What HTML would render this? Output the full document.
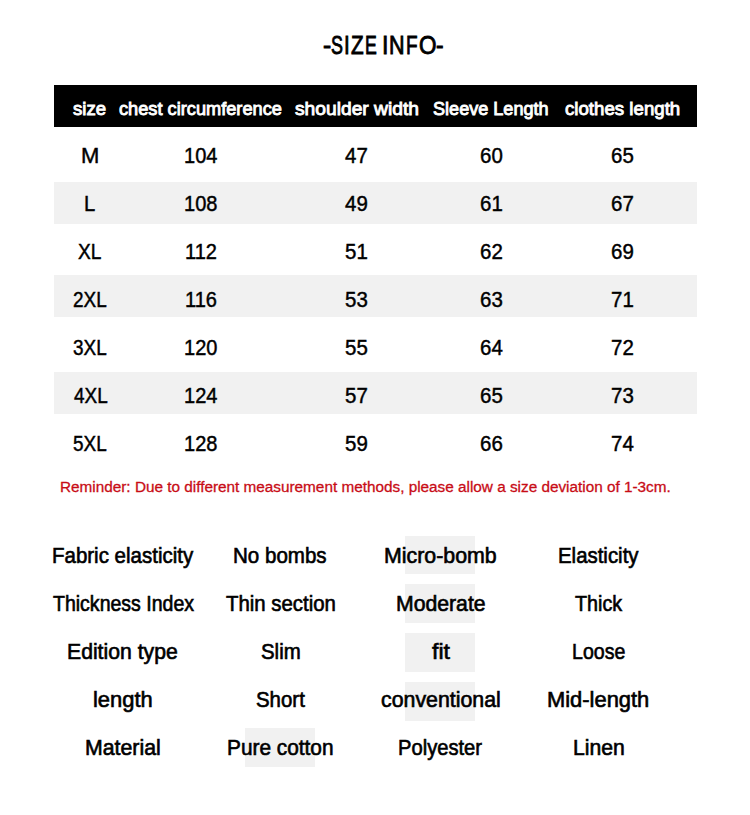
<!DOCTYPE html>
<html><head><meta charset="utf-8"><style>
html,body{margin:0;padding:0;background:#fff;width:750px;height:815px;overflow:hidden;position:relative}
.t{position:absolute;white-space:pre;font-family:'Liberation Sans', sans-serif;transform-origin:0 0}
.r{position:absolute;background:#f1f1f1}
.hd{position:absolute;left:54px;top:85px;width:643px;height:42px;background:#000}
</style></head><body>
<div class="r" style="left:54px;top:182px;width:643px;height:42px"></div><div class="r" style="left:54px;top:275px;width:643px;height:42px"></div><div class="r" style="left:54px;top:372px;width:643px;height:42px"></div><div class="r" style="left:405px;top:536px;width:70px;height:38px"></div><div class="r" style="left:405px;top:584px;width:70px;height:39px"></div><div class="r" style="left:405px;top:633px;width:70px;height:39px"></div><div class="r" style="left:405px;top:682px;width:70px;height:39px"></div><div class="r" style="left:245px;top:728px;width:70px;height:39px"></div><div class="hd"></div>
<div class="t" style="left:322.57px;top:31.80px;font-size:26.5px;line-height:26.5px;font-weight:normal;color:#000;transform:scaleX(0.9286);-webkit-text-stroke:0.9px #000">-</div><div class="t" style="left:330.62px;top:31.80px;font-size:26.5px;line-height:26.5px;font-weight:normal;color:#000;transform:scaleX(0.6750);-webkit-text-stroke:0.9px #000">S</div><div class="t" style="left:343.55px;top:31.80px;font-size:26.5px;line-height:26.5px;font-weight:normal;color:#000;transform:scaleX(0.7750);-webkit-text-stroke:0.9px #000">I</div><div class="t" style="left:350.80px;top:31.80px;font-size:26.5px;line-height:26.5px;font-weight:normal;color:#000;transform:scaleX(0.7812);-webkit-text-stroke:0.9px #000">Z</div><div class="t" style="left:364.57px;top:31.80px;font-size:26.5px;line-height:26.5px;font-weight:normal;color:#000;transform:scaleX(0.6667);-webkit-text-stroke:0.9px #000">E</div><div class="t" style="left:382.15px;top:31.80px;font-size:26.5px;line-height:26.5px;font-weight:normal;color:#000;transform:scaleX(0.8750);-webkit-text-stroke:0.9px #000">I</div><div class="t" style="left:389.18px;top:31.80px;font-size:26.5px;line-height:26.5px;font-weight:normal;color:#000;transform:scaleX(0.8125);-webkit-text-stroke:0.9px #000">N</div><div class="t" style="left:405.87px;top:31.80px;font-size:26.5px;line-height:26.5px;font-weight:normal;color:#000;transform:scaleX(0.7143);-webkit-text-stroke:0.9px #000">F</div><div class="t" style="left:418.55px;top:31.80px;font-size:26.5px;line-height:26.5px;font-weight:normal;color:#000;transform:scaleX(0.8474);-webkit-text-stroke:0.9px #000">O</div><div class="t" style="left:435.94px;top:31.80px;font-size:26.5px;line-height:26.5px;font-weight:normal;color:#000;transform:scaleX(0.8571);-webkit-text-stroke:0.9px #000">-</div><div class="t" style="left:73.40px;top:99.00px;font-size:19px;line-height:19px;font-weight:normal;color:#fff;transform:scaleX(0.9794);-webkit-text-stroke:0.9px #fff">size</div><div class="t" style="left:118.80px;top:99.00px;font-size:19px;line-height:19px;font-weight:normal;color:#fff;transform:scaleX(0.9582);-webkit-text-stroke:0.9px #fff">chest circumference</div><div class="t" style="left:294.50px;top:99.00px;font-size:19px;line-height:19px;font-weight:normal;color:#fff;transform:scaleX(1.0123);-webkit-text-stroke:0.9px #fff">shoulder width</div><div class="t" style="left:433.05px;top:99.00px;font-size:19px;line-height:19px;font-weight:normal;color:#fff;transform:scaleX(0.9517);-webkit-text-stroke:0.9px #fff">Sleeve Length</div><div class="t" style="left:564.70px;top:99.00px;font-size:19px;line-height:19px;font-weight:normal;color:#fff;transform:scaleX(0.9829);-webkit-text-stroke:0.9px #fff">clothes length</div><div class="t" style="left:81.00px;top:145.00px;font-size:22px;line-height:22px;font-weight:normal;color:#000;transform:scaleX(1.0000);-webkit-text-stroke:0.45px #000">M</div><div class="t" style="left:184.26px;top:145.00px;font-size:22px;line-height:22px;font-weight:normal;color:#000;transform:scaleX(0.9100);-webkit-text-stroke:0.45px #000">104</div><div class="t" style="left:345.14px;top:145.00px;font-size:22px;line-height:22px;font-weight:normal;color:#000;transform:scaleX(0.9300);-webkit-text-stroke:0.45px #000">47</div><div class="t" style="left:479.77px;top:145.00px;font-size:22px;line-height:22px;font-weight:normal;color:#000;transform:scaleX(0.9300);-webkit-text-stroke:0.45px #000">60</div><div class="t" style="left:610.67px;top:145.00px;font-size:22px;line-height:22px;font-weight:normal;color:#000;transform:scaleX(0.9300);-webkit-text-stroke:0.45px #000">65</div><div class="t" style="left:84.06px;top:193.00px;font-size:22px;line-height:22px;font-weight:normal;color:#000;transform:scaleX(0.9200);-webkit-text-stroke:0.45px #000">L</div><div class="t" style="left:184.26px;top:193.00px;font-size:22px;line-height:22px;font-weight:normal;color:#000;transform:scaleX(0.9100);-webkit-text-stroke:0.45px #000">108</div><div class="t" style="left:345.14px;top:193.00px;font-size:22px;line-height:22px;font-weight:normal;color:#000;transform:scaleX(0.9300);-webkit-text-stroke:0.45px #000">49</div><div class="t" style="left:479.77px;top:193.00px;font-size:22px;line-height:22px;font-weight:normal;color:#000;transform:scaleX(0.9300);-webkit-text-stroke:0.45px #000">61</div><div class="t" style="left:610.67px;top:193.00px;font-size:22px;line-height:22px;font-weight:normal;color:#000;transform:scaleX(0.9300);-webkit-text-stroke:0.45px #000">67</div><div class="t" style="left:78.32px;top:241.00px;font-size:22px;line-height:22px;font-weight:normal;color:#000;transform:scaleX(0.8700);-webkit-text-stroke:0.45px #000">XL</div><div class="t" style="left:185.17px;top:241.00px;font-size:22px;line-height:22px;font-weight:normal;color:#000;transform:scaleX(0.9100);-webkit-text-stroke:0.45px #000">112</div><div class="t" style="left:344.68px;top:241.00px;font-size:22px;line-height:22px;font-weight:normal;color:#000;transform:scaleX(0.9300);-webkit-text-stroke:0.45px #000">51</div><div class="t" style="left:479.77px;top:241.00px;font-size:22px;line-height:22px;font-weight:normal;color:#000;transform:scaleX(0.9300);-webkit-text-stroke:0.45px #000">62</div><div class="t" style="left:610.67px;top:241.00px;font-size:22px;line-height:22px;font-weight:normal;color:#000;transform:scaleX(0.9300);-webkit-text-stroke:0.45px #000">69</div><div class="t" style="left:73.30px;top:289.00px;font-size:22px;line-height:22px;font-weight:normal;color:#000;transform:scaleX(0.8600);-webkit-text-stroke:0.45px #000">2XL</div><div class="t" style="left:185.17px;top:289.00px;font-size:22px;line-height:22px;font-weight:normal;color:#000;transform:scaleX(0.9100);-webkit-text-stroke:0.45px #000">116</div><div class="t" style="left:344.68px;top:289.00px;font-size:22px;line-height:22px;font-weight:normal;color:#000;transform:scaleX(0.9300);-webkit-text-stroke:0.45px #000">53</div><div class="t" style="left:479.77px;top:289.00px;font-size:22px;line-height:22px;font-weight:normal;color:#000;transform:scaleX(0.9300);-webkit-text-stroke:0.45px #000">63</div><div class="t" style="left:610.67px;top:289.00px;font-size:22px;line-height:22px;font-weight:normal;color:#000;transform:scaleX(0.9300);-webkit-text-stroke:0.45px #000">71</div><div class="t" style="left:73.30px;top:337.00px;font-size:22px;line-height:22px;font-weight:normal;color:#000;transform:scaleX(0.8600);-webkit-text-stroke:0.45px #000">3XL</div><div class="t" style="left:184.26px;top:337.00px;font-size:22px;line-height:22px;font-weight:normal;color:#000;transform:scaleX(0.9100);-webkit-text-stroke:0.45px #000">120</div><div class="t" style="left:344.68px;top:337.00px;font-size:22px;line-height:22px;font-weight:normal;color:#000;transform:scaleX(0.9300);-webkit-text-stroke:0.45px #000">55</div><div class="t" style="left:479.77px;top:337.00px;font-size:22px;line-height:22px;font-weight:normal;color:#000;transform:scaleX(0.9300);-webkit-text-stroke:0.45px #000">64</div><div class="t" style="left:610.67px;top:337.00px;font-size:22px;line-height:22px;font-weight:normal;color:#000;transform:scaleX(0.9300);-webkit-text-stroke:0.45px #000">72</div><div class="t" style="left:73.73px;top:385.00px;font-size:22px;line-height:22px;font-weight:normal;color:#000;transform:scaleX(0.8600);-webkit-text-stroke:0.45px #000">4XL</div><div class="t" style="left:184.26px;top:385.00px;font-size:22px;line-height:22px;font-weight:normal;color:#000;transform:scaleX(0.9100);-webkit-text-stroke:0.45px #000">124</div><div class="t" style="left:344.68px;top:385.00px;font-size:22px;line-height:22px;font-weight:normal;color:#000;transform:scaleX(0.9300);-webkit-text-stroke:0.45px #000">57</div><div class="t" style="left:479.77px;top:385.00px;font-size:22px;line-height:22px;font-weight:normal;color:#000;transform:scaleX(0.9300);-webkit-text-stroke:0.45px #000">65</div><div class="t" style="left:610.67px;top:385.00px;font-size:22px;line-height:22px;font-weight:normal;color:#000;transform:scaleX(0.9300);-webkit-text-stroke:0.45px #000">73</div><div class="t" style="left:73.30px;top:433.00px;font-size:22px;line-height:22px;font-weight:normal;color:#000;transform:scaleX(0.8600);-webkit-text-stroke:0.45px #000">5XL</div><div class="t" style="left:184.26px;top:433.00px;font-size:22px;line-height:22px;font-weight:normal;color:#000;transform:scaleX(0.9100);-webkit-text-stroke:0.45px #000">128</div><div class="t" style="left:344.68px;top:433.00px;font-size:22px;line-height:22px;font-weight:normal;color:#000;transform:scaleX(0.9300);-webkit-text-stroke:0.45px #000">59</div><div class="t" style="left:479.77px;top:433.00px;font-size:22px;line-height:22px;font-weight:normal;color:#000;transform:scaleX(0.9300);-webkit-text-stroke:0.45px #000">66</div><div class="t" style="left:610.67px;top:433.00px;font-size:22px;line-height:22px;font-weight:normal;color:#000;transform:scaleX(0.9300);-webkit-text-stroke:0.45px #000">74</div><div class="t" style="left:59.51px;top:479.00px;font-size:15.5px;line-height:15.5px;font-weight:normal;color:#c80c16;transform:scaleX(0.9878);-webkit-text-stroke:0.3px #c80c16">Reminder: Due to different measurement methods, please allow a size deviation of 1-3cm.</div><div class="t" style="left:51.68px;top:544.80px;font-size:22.5px;line-height:22.5px;font-weight:normal;color:#000;transform:scaleX(0.9105);-webkit-text-stroke:0.65px #000">Fabric elasticity</div><div class="t" style="left:233.47px;top:544.80px;font-size:22.5px;line-height:22.5px;font-weight:normal;color:#000;transform:scaleX(0.9130);-webkit-text-stroke:0.65px #000">No bombs</div><div class="t" style="left:383.80px;top:544.80px;font-size:22.5px;line-height:22.5px;font-weight:normal;color:#000;transform:scaleX(0.9491);-webkit-text-stroke:0.65px #000">Micro-bomb</div><div class="t" style="left:558.09px;top:544.80px;font-size:22.5px;line-height:22.5px;font-weight:normal;color:#000;transform:scaleX(0.9069);-webkit-text-stroke:0.65px #000">Elasticity</div><div class="t" style="left:52.50px;top:592.80px;font-size:22.5px;line-height:22.5px;font-weight:normal;color:#000;transform:scaleX(0.8675);-webkit-text-stroke:0.65px #000">Thickness Index</div><div class="t" style="left:226.30px;top:592.80px;font-size:22.5px;line-height:22.5px;font-weight:normal;color:#000;transform:scaleX(0.9058);-webkit-text-stroke:0.65px #000">Thin section</div><div class="t" style="left:395.62px;top:592.80px;font-size:22.5px;line-height:22.5px;font-weight:normal;color:#000;transform:scaleX(0.9424);-webkit-text-stroke:0.65px #000">Moderate</div><div class="t" style="left:575.20px;top:592.80px;font-size:22.5px;line-height:22.5px;font-weight:normal;color:#000;transform:scaleX(0.8759);-webkit-text-stroke:0.65px #000">Thick</div><div class="t" style="left:67.02px;top:640.80px;font-size:22.5px;line-height:22.5px;font-weight:normal;color:#000;transform:scaleX(0.9417);-webkit-text-stroke:0.65px #000">Edition type</div><div class="t" style="left:260.89px;top:640.80px;font-size:22.5px;line-height:22.5px;font-weight:normal;color:#000;transform:scaleX(0.9071);-webkit-text-stroke:0.65px #000">Slim</div><div class="t" style="left:431.90px;top:640.80px;font-size:22.5px;line-height:22.5px;font-weight:normal;color:#000;transform:scaleX(1.0278);-webkit-text-stroke:0.65px #000">fit</div><div class="t" style="left:571.76px;top:640.80px;font-size:22.5px;line-height:22.5px;font-weight:normal;color:#000;transform:scaleX(0.8695);-webkit-text-stroke:0.65px #000">Loose</div><div class="t" style="left:93.03px;top:688.80px;font-size:22.5px;line-height:22.5px;font-weight:normal;color:#000;transform:scaleX(0.9746);-webkit-text-stroke:0.65px #000">length</div><div class="t" style="left:256.09px;top:688.80px;font-size:22.5px;line-height:22.5px;font-weight:normal;color:#000;transform:scaleX(0.9075);-webkit-text-stroke:0.65px #000">Short</div><div class="t" style="left:380.95px;top:688.80px;font-size:22.5px;line-height:22.5px;font-weight:normal;color:#000;transform:scaleX(0.9484);-webkit-text-stroke:0.65px #000">conventional</div><div class="t" style="left:547.25px;top:688.80px;font-size:22.5px;line-height:22.5px;font-weight:normal;color:#000;transform:scaleX(0.9735);-webkit-text-stroke:0.65px #000">Mid-length</div><div class="t" style="left:84.61px;top:736.80px;font-size:22.5px;line-height:22.5px;font-weight:normal;color:#000;transform:scaleX(0.9468);-webkit-text-stroke:0.65px #000">Material</div><div class="t" style="left:227.35px;top:736.80px;font-size:22.5px;line-height:22.5px;font-weight:normal;color:#000;transform:scaleX(0.9259);-webkit-text-stroke:0.65px #000">Pure cotton</div><div class="t" style="left:398.31px;top:736.80px;font-size:22.5px;line-height:22.5px;font-weight:normal;color:#000;transform:scaleX(0.8957);-webkit-text-stroke:0.65px #000">Polyester</div><div class="t" style="left:572.62px;top:736.80px;font-size:22.5px;line-height:22.5px;font-weight:normal;color:#000;transform:scaleX(0.9404);-webkit-text-stroke:0.65px #000">Linen</div>
</body></html>
